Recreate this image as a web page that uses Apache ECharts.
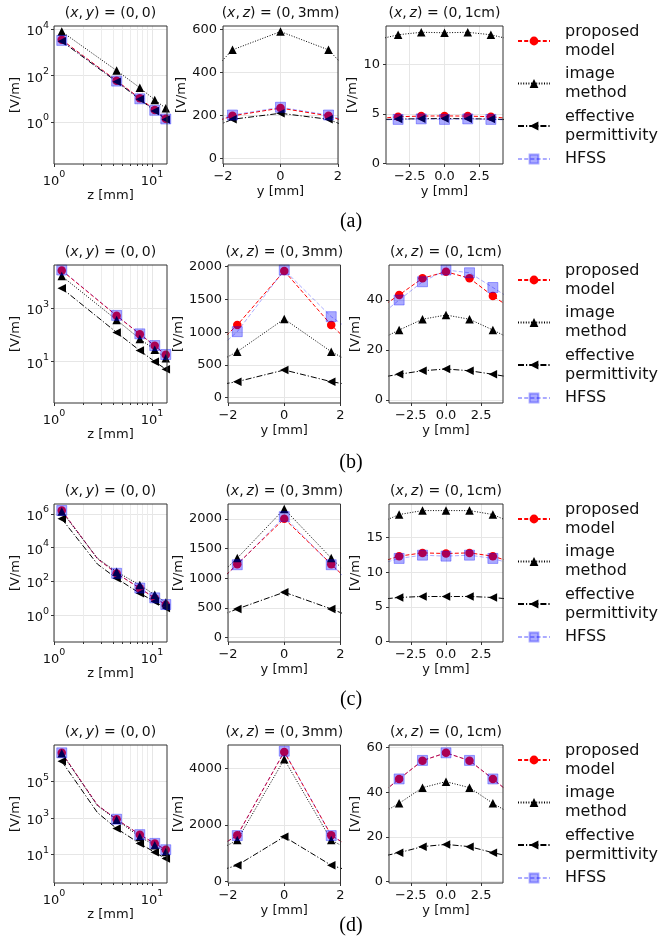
<!DOCTYPE html>
<html><head><meta charset="utf-8">
<script src="https://cdn.jsdelivr.net/npm/echarts@6/dist/echarts.min.js"></script>
<style>html,body{margin:0;padding:0;background:#fff}#c{width:660px;height:937px}</style>
</head><body><div id="c"></div>
<script>
// ---------------- data ----------------
const zMarks = [1.2, 4.35, 7.5, 10.65, 13.8];
const zKink = [1.2, 2.775, 4.35, 7.5, 10.65, 13.8];
const zNoMarker = [2.775];
const yMid = [-3.33, -1.67, 0, 1.67, 3.33];
const yRight = [-5, -3.33, -1.67, 0, 1.67, 3.33, 5];

const logXTicks = [1, 10];
const logXMinor = [2, 3, 4, 5, 6, 7, 8, 9];
const midXTicks = [-2, 0, 2];
const rightXTicks = [-2.5, 0, 2.5];

// (a)
const aLogProposed = [3500, 60, 10.5, 3.3, 1.4];
const aLogImage = [7900, 165, 30, 9, 3.9];
const aLogEffective = [3000, 55, 9.5, 3.0, 1.3];
const aLogHFSS = [3300, 58, 10, 3.2, 1.35];
const aMidProposed = [120, 197, 233, 197, 120];
const aMidImage = [269, 504, 589, 504, 269];
const aMidEffective = [91, 181, 209, 181, 91];
const aMidHFSS = [125, 201, 237, 201, 125];
const aRightProposed = [4.49, 4.72, 4.78, 4.8, 4.78, 4.72, 4.49];
const aRightImage = [12.4, 12.95, 13.2, 13.15, 13.2, 12.95, 12.4];
const aRightEffective = [4.42, 4.48, 4.52, 4.53, 4.52, 4.48, 4.42];
const aRightHFSS = [4.38, 4.45, 4.5, 4.45, 4.5, 4.45, 4.38];
const aLogYExp = [0, 2, 4];
const aMidYTicks = [0, 200, 400, 600];
const aRightYTicks = [0, 5, 10];

// (b)
const bLogProposed = [26000, 525, 107, 39, 18];
const bLogImage = [16000, 365, 71, 28, 13.5];
const bLogEffective = [5600, 124, 26, 10, 5.2];
const bLogHFSS = [27000, 540, 110, 40, 18.5];
const bMidProposed = [425, 1110, 1935, 1110, 425];
const bMidImage = [318, 703, 1202, 703, 318];
const bMidEffective = [120, 245, 423, 245, 120];
const bMidHFSS = [373, 1008, 1950, 1237, 732];
const bRightProposed = [35.7, 42, 48.7, 51.3, 48.7, 41.6, 35.3];
const bRightImage = [23.3, 28, 32.3, 34, 32.3, 28, 23.3];
const bRightEffective = [8.7, 10.3, 11.7, 12.4, 11.7, 10.3, 8.7];
const bRightHFSS = [32.3, 40, 47.3, 52, 50.9, 45, 39];
const bLogYExp = [1, 3];
const bMidYTicks = [0, 500, 1000, 1500, 2000];
const bRightYTicks = [0, 20, 40];

// (c)
const cLogProposed = [1.6e6, 2200, 295, 39, 10, 4.1];
const cLogImage = [1.4e6, 2300, 370, 60, 16, 5.6];
const cLogEffective = [5.1e5, 1050, 150, 19.5, 6.3, 2.6];
const cLogHFSS = [1.6e6, 2200, 300, 40, 10.5, 4.2];
const cMidProposed = [480, 1240, 2006, 1240, 480];
const cMidImage = [582, 1342, 2170, 1342, 582];
const cMidEffective = [175, 485, 767, 485, 175];
const cMidHFSS = [475, 1230, 2040, 1230, 475];
const cRightProposed = [11.24, 12.33, 12.8, 12.71, 12.8, 12.33, 11.24];
const cRightImage = [16.86, 18.33, 18.9, 18.9, 18.9, 18.33, 16.86];
const cRightEffective = [6.04, 6.37, 6.52, 6.5, 6.52, 6.37, 6.04];
const cRightHFSS = [11.0, 12.0, 12.47, 12.33, 12.47, 12.0, 11.0];
const cLogYExp = [0, 2, 4, 6];
const cMidYTicks = [0, 500, 1000, 1500, 2000];
const cRightYTicks = [0, 5, 10, 15];

// (d)
const dLogProposed = [3.5e6, 4900, 820, 120, 39, 18];
const dLogImage = [3.3e6, 4500, 780, 90, 32, 13.5];
const dLogEffective = [1.2e6, 1900, 260, 39, 13, 5.9];
const dLogHFSS = [3.5e6, 4900, 830, 120, 40, 18];
const dMidProposed = [605, 1630, 4595, 1630, 605];
const dMidImage = [570, 1460, 4330, 1460, 570];
const dMidEffective = [60, 565, 1580, 565, 60];
const dMidHFSS = [600, 1620, 4620, 1620, 600];
const dRightProposed = [37.4, 46, 54.2, 57.7, 54.2, 46, 37.4];
const dRightImage = [29, 35.1, 42.1, 44.8, 42.1, 35.1, 29];
const dRightEffective = [10.7, 13, 15.7, 16.7, 15.7, 13, 10.7];
const dRightHFSS = [37.4, 46, 54.3, 57.7, 54.3, 46, 37.4];
const dLogYExp = [1, 3, 5];
const dMidYTicks = [0, 2000, 4000];
const dRightYTicks = [0, 20, 40, 60];

const seriesNames = ['proposed model', 'image method', 'effective permittivity', 'HFSS'];
const legendLabels = ['proposed\nmodel', 'image\nmethod', 'effective\npermittivity', 'HFSS'];
const captions = ['(a)', '(b)', '(c)', '(d)'];

const ROWS = [
  {log: [zMarks, [aLogProposed, aLogImage, aLogEffective, aLogHFSS]], mid: [aMidProposed, aMidImage, aMidEffective, aMidHFSS], right: [aRightProposed, aRightImage, aRightEffective, aRightHFSS], logY: aLogYExp, midY: aMidYTicks, rightY: aRightYTicks},
  {log: [zMarks, [bLogProposed, bLogImage, bLogEffective, bLogHFSS]], mid: [bMidProposed, bMidImage, bMidEffective, bMidHFSS], right: [bRightProposed, bRightImage, bRightEffective, bRightHFSS], logY: bLogYExp, midY: bMidYTicks, rightY: bRightYTicks},
  {log: [zKink, [cLogProposed, cLogImage, cLogEffective, cLogHFSS]], mid: [cMidProposed, cMidImage, cMidEffective, cMidHFSS], right: [cRightProposed, cRightImage, cRightEffective, cRightHFSS], logY: cLogYExp, midY: cMidYTicks, rightY: cRightYTicks},
  {log: [zKink, [dLogProposed, dLogImage, dLogEffective, dLogHFSS]], mid: [dMidProposed, dMidImage, dMidEffective, dMidHFSS], right: [dRightProposed, dRightImage, dRightEffective, dRightHFSS], logY: dLogYExp, midY: dMidYTicks, rightY: dRightYTicks}
];

// ---------------- layout / style ----------------
const ROW_TOP = [26, 265, 504, 745];
const PH = 138;
const PANEL_X = [
  [[54, 113], [223, 115], [386, 117]],
  [[54, 113], [228, 112.5], [389, 114]],
  [[54, 113], [228, 112.5], [389, 114]],
  [[54, 113], [228, 112.5], [389, 114]]
];
const YNAME_GAP = [[32, 35, 25], [32, 40, 24], [32, 40, 24], [32, 40, 24]];
const YLIM = {
  log: [[-1.81, 4.14], [-0.55, 4.62], [-1.6, 6.59], [-0.56, 6.97]],
  mid: [[-27, 615], [-81, 2026], [-72, 2253], [-65, 4840]],
  right: [[-0.03, 13.83], [-1.2, 54], [-0.05, 19.85], [-0.58, 61.2]]
};
const XLIM_LOG = [0, Math.log10(14.2)];
const XLIM_MID = [-2, 2];
const XLIM_RIGHT = [[-4.2, 4.2], [-4.05, 4.05], [-4.05, 4.05], [-4.05, 4.05]];
const LEG_CENTER = [15, 57.5, 100, 133];
const CAPTION_Y = [222, 463, 700, 926];

const STYLE = [
  {symbol: 'circle', size: 8.5, rotate: 0, fill: '#ff0000', edge: '#ff0000', edgeW: 0, line: '#ff0000', dash: [4, 2.2]},
  {symbol: 'triangle', size: 8.5, rotate: 0, fill: '#000', edge: '#000', edgeW: 0, line: '#000', dash: [1, 1.6]},
  {symbol: 'triangle', size: 8.5, rotate: 90, fill: '#000', edge: '#000', edgeW: 0, line: '#000', dash: [6, 2, 1.2, 2]},
  {symbol: 'rect', size: 10, rotate: 0, fill: 'rgba(0,0,255,0.33)', edge: 'rgba(0,0,255,0.33)', edgeW: 1, line: 'rgba(0,0,255,0.33)', dash: [4, 2.2]}
];
const FONT = 'DejaVu Sans';
const TXT = '#111';

const fmt = (v, d) => { const s = (Math.abs(v) < 1e-9 ? 0 : v).toFixed(d); return s[0] === '-' ? '−' + s.slice(1) : s; };
const powFmt = v => '{b|10}{s|' + Math.round(v) + '}';
const POW_RICH = {
  b: {fontSize: 13, fontFamily: FONT, color: TXT, lineHeight: 18, verticalAlign: 'bottom'},
  s: {fontSize: 9.5, fontFamily: FONT, color: TXT, lineHeight: 18, verticalAlign: 'top'}
};

const grids = [], xAxes = [], yAxes = [], series = [], legends = [], graphics = [];

function axis(gi, min, max, ticks, formatter, margin, name, nameGap, rich) {
  const lab = {show: true, customValues: ticks, formatter, fontSize: 13, fontFamily: FONT, color: TXT, margin};
  if (rich) lab.rich = rich;
  return {
    type: 'value', gridIndex: gi, min, max,
    axisLine: {show: false, onZero: false},
    axisTick: {show: true, length: 3, lineStyle: {color: '#333', width: 1}, customValues: ticks},
    axisLabel: lab,
    splitLine: {show: true, lineStyle: {color: '#e6e6e6', width: 1}},
    name, nameLocation: 'middle', nameGap,
    nameTextStyle: {fontSize: 13, fontFamily: FONT, color: TXT}
  };
}

function addSeries(xi, yi, xs, ys, k, tx, ty) {
  const st = STYLE[k];
  series.push({
    type: 'line', name: seriesNames[k], xAxisIndex: xi, yAxisIndex: yi,
    data: xs.map((x, i) => [tx(x), ty(ys[i]), zNoMarker.includes(x) ? 0 : 1]),
    symbol: st.symbol, symbolRotate: st.rotate,
    symbolSize: v => (v[2] ? st.size : 0),
    itemStyle: {color: st.fill, borderColor: st.edge, borderWidth: st.edgeW},
    lineStyle: {color: st.line, width: 1, type: st.dash},
    clip: true, silent: true, animation: false,
    emphasis: {disabled: true}
  });
}

const idf = v => v;
const lg = v => Math.log10(v);

function addTitle(cx, cy, second, third) {
  graphics.push({
    type: 'text', z: 20,
    style: {
      text: '({i|x},\u2009{i|' + second + '}) = (0,\u2009' + third + ')',
      x: cx, y: cy, align: 'center', verticalAlign: 'middle',
      fontSize: 14, fontFamily: FONT, fill: TXT,
      rich: {i: {fontStyle: 'italic', fontSize: 14, fontFamily: FONT, fill: TXT}}
    }
  });
}

ROWS.forEach((row, r) => {
  const top = ROW_TOP[r];
  // ----- panel 1: log-log -----
  {
    const [left, width] = PANEL_X[r][0];
    const gi = grids.length;
    grids.push({left, top, width, height: PH, show: true, borderColor: '#333', borderWidth: 1, z: 10});
    const xi = xAxes.length;
    xAxes.push(Object.assign(axis(gi, XLIM_LOG[0], XLIM_LOG[1], logXTicks.map(lg), powFmt, 6, 'z [mm]', 21.5, POW_RICH), {position: 'bottom'}));
    xAxes.push({type: 'value', gridIndex: gi, position: 'bottom', min: XLIM_LOG[0], max: XLIM_LOG[1],
      axisLine: {show: false, onZero: false},
      axisTick: {show: true, length: 2, lineStyle: {color: '#333'}, customValues: logXMinor.map(lg)},
      axisLabel: {show: false},
      splitLine: {show: true, lineStyle: {color: '#ececec', width: 1}}});
    const yi = yAxes.length;
    yAxes.push(Object.assign(axis(gi, YLIM.log[r][0], YLIM.log[r][1], row.logY, powFmt, 5, '[V/m]', YNAME_GAP[r][0], POW_RICH), {position: 'left'}));
    const [xs, sets] = row.log;
    sets.forEach((ys, k) => addSeries(xi, yi, xs, ys, k, lg, lg));
    addTitle(left + width / 2, top - 13, 'y', '0');
  }
  // ----- panel 2: z = 3mm -----
  {
    const [left, width] = PANEL_X[r][1];
    const gi = grids.length;
    grids.push({left, top, width, height: PH, show: true, borderColor: '#333', borderWidth: 1, z: 10});
    const xi = xAxes.length;
    xAxes.push(Object.assign(axis(gi, XLIM_MID[0], XLIM_MID[1], midXTicks, v => fmt(v, 0), 6, 'y [mm]', 21.5), {position: 'bottom'}));
    const yi = yAxes.length;
    yAxes.push(Object.assign(axis(gi, YLIM.mid[r][0], YLIM.mid[r][1], row.midY, v => fmt(v, 0), 6, '[V/m]', YNAME_GAP[r][1]), {position: 'left'}));
    row.mid.forEach((ys, k) => addSeries(xi, yi, yMid, ys, k, idf, idf));
    addTitle(left + width / 2, top - 13, 'z', '3mm');
  }
  // ----- panel 3: z = 1cm -----
  {
    const [left, width] = PANEL_X[r][2];
    const gi = grids.length;
    grids.push({left, top, width, height: PH, show: true, borderColor: '#333', borderWidth: 1, z: 10});
    const xi = xAxes.length;
    xAxes.push(Object.assign(axis(gi, XLIM_RIGHT[r][0], XLIM_RIGHT[r][1], rightXTicks, v => fmt(v, 1), 6, 'y [mm]', 21.5), {position: 'bottom'}));
    const yi = yAxes.length;
    yAxes.push(Object.assign(axis(gi, YLIM.right[r][0], YLIM.right[r][1], row.rightY, v => fmt(v, 0), 6, '[V/m]', YNAME_GAP[r][2]), {position: 'left'}));
    row.right.forEach((ys, k) => addSeries(xi, yi, yRight, ys, k, idf, idf));
    addTitle(left + width / 2, top - 13, 'z', '1cm');
  }
  // ----- legend -----
  seriesNames.forEach((name, k) => {
    const two = legendLabels[k].indexOf('\n') >= 0;
    legends.push({
      data: [name], left: 517, top: top + LEG_CENTER[k] - (two ? 19 : 9.5),
      orient: 'vertical', padding: 0, itemWidth: 32, itemHeight: 11, selectedMode: false,
      formatter: () => legendLabels[k],
      textStyle: {fontSize: 16, fontFamily: FONT, color: TXT, lineHeight: 19, padding: [0, 0, 0, 10]}
    });
  });
  // ----- caption -----
  graphics.push({type: 'text', z: 20, style: {text: captions[r], x: 351, y: CAPTION_Y[r], align: 'center', verticalAlign: 'middle', fontSize: 20, fontFamily: 'Liberation Serif', fill: '#000'}});
});

const chart = echarts.init(document.getElementById('c'), null, {renderer: 'canvas'});
chart.setOption({
  animation: false,
  backgroundColor: '#fff',
  grid: grids, xAxis: xAxes, yAxis: yAxes, series, legend: legends, graphic: graphics
});
</script></body></html>
